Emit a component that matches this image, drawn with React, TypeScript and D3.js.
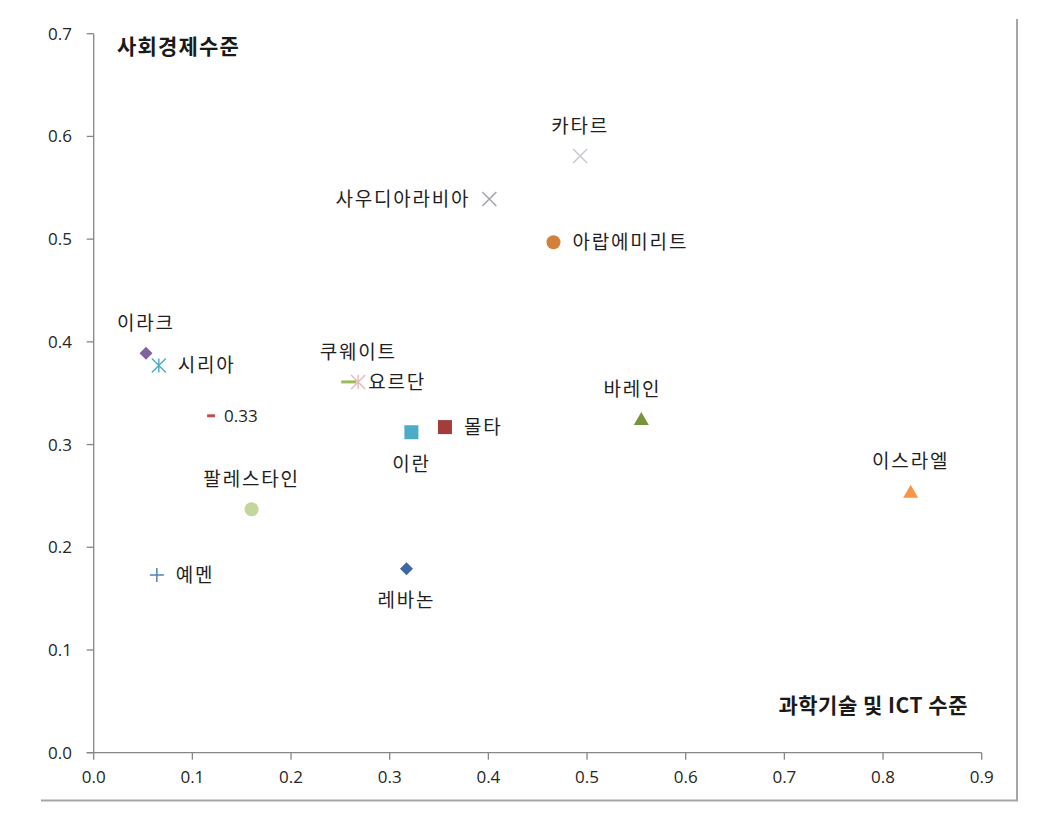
import React from "react";
import * as d3 from "d3";

const countries = ["이라크", "시리아", "0.33", "팔레스타인", "예멘", "레바논", "이란", "몰타", "쿠웨이트", "요르단", "바레인", "이스라엘", "카타르", "사우디아라비아", "아랍에미리트"];
const techLevel = [0.053, 0.066, 0.119, 0.160, 0.064, 0.317, 0.322, 0.356, 0.259, 0.268, 0.555, 0.828, 0.493, 0.401, 0.466];
const socioLevel = [0.389, 0.377, 0.328, 0.237, 0.173, 0.179, 0.312, 0.317, 0.361, 0.361, 0.325, 0.254, 0.581, 0.539, 0.497];
const xTicks = [0, 0.1, 0.2, 0.3, 0.4, 0.5, 0.6, 0.7, 0.8, 0.9];
const yTicks = [0, 0.1, 0.2, 0.3, 0.4, 0.5, 0.6, 0.7];
const yTitle = "사회경제수준";
const xTitle = "과학기술 및 ICT 수준";

// marker style per series
const markerShapes = ["diamond", "asterisk", "dashSmall", "circle", "plus", "diamond", "square", "square", "dash", "asterisk", "triangle", "triangle", "cross", "cross", "circle"];
const markerColors = ["#8064A2", "#4BACC6", "#C0504D", "#C3D69B", "#4F81BD", "#3F68A3", "#4BACC6", "#A23D3A", "#9BBB59", "#E6B9B8", "#77933C", "#F79646", "#C9C9D3", "#A3A3B5", "#D2803B"];
const labelSide = ["top", "right", "right", "top", "right", "bottom", "bottom", "right", "top", "right", "top", "top", "top", "left", "right"];
const labelShift = [0, 0, 0, 0, 0, 0, 0, 0, 9, -8, -9, 0, 0, 0, 0];

const W = 1047, H = 814;
const x = d3.scaleLinear().domain([0, 0.9]).range([93.7, 981.7]);
const y = d3.scaleLinear().domain([0, 0.7]).range([752.7, 33.7]);

function Marker({ shape, color, cx, cy }: { shape: string; color: string; cx: number; cy: number }) {
  switch (shape) {
    case "diamond": {
      const r = 6.5;
      return <path d={`M${cx},${cy - r}L${cx + r},${cy}L${cx},${cy + r}L${cx - r},${cy}Z`} fill={color} />;
    }
    case "square":
      return <rect x={cx - 7} y={cy - 7} width={14} height={14} fill={color} />;
    case "circle":
      return <circle cx={cx} cy={cy} r={7} fill={color} />;
    case "triangle":
      return <path d={`M${cx},${cy - 7}L${cx + 7.5},${cy + 6}L${cx - 7.5},${cy + 6}Z`} fill={color} />;
    case "cross": {
      const r = 7;
      return <path d={`M${cx - r},${cy - r}L${cx + r},${cy + r}M${cx - r},${cy + r}L${cx + r},${cy - r}`} stroke={color} strokeWidth={1.5} fill="none" />;
    }
    case "plus": {
      const r = 7;
      return <path d={`M${cx - r},${cy}L${cx + r},${cy}M${cx},${cy - r}L${cx},${cy + r}`} stroke={color} strokeWidth={1.5} fill="none" />;
    }
    case "asterisk": {
      const r = 7;
      return <path d={`M${cx - r},${cy - r}L${cx + r},${cy + r}M${cx - r},${cy + r}L${cx + r},${cy - r}M${cx},${cy - r}L${cx},${cy + r}`} stroke={color} strokeWidth={1.4} fill="none" />;
    }
    case "dash":
      return <rect x={cx - 8} y={cy - 1.5} width={15} height={3} fill={color} />;
    case "dashSmall":
      return <rect x={cx - 4} y={cy - 1.5} width={8} height={3} fill={color} />;
    default:
      return null;
  }
}

export default function App() {
  const labelFont = "'Noto Sans CJK KR', 'Noto Sans', sans-serif";
  const numFont = "'Open Sans', 'Noto Sans', sans-serif";
  return (
    <svg width={W} height={H} style={{ position: "absolute", left: 0, top: 0, background: "#fff" }}>
      {/* outer frame */}
      <path d="M41,800.5H1017V19" stroke="#A6A6A6" strokeWidth={2} fill="none" />
      {/* axes */}
      <line x1={x(0)} x2={x(0)} y1={y(0.7)} y2={y(0)} stroke="#868686" strokeWidth={1.3} />
      <line x1={x(0) - 7} x2={x(0.9)} y1={y(0)} y2={y(0)} stroke="#868686" strokeWidth={1.3} />
      {yTicks.map((t) => (
        <g key={"y" + t}>
          <line x1={x(0) - 7} x2={x(0)} y1={y(t)} y2={y(t)} stroke="#868686" strokeWidth={1.3} />
          <text x={72} y={y(t)} dy="0.35em" textAnchor="end" fontFamily={numFont} fontSize={17} fill="#262626">
            {t.toFixed(1)}
          </text>
        </g>
      ))}
      {xTicks.map((t) => (
        <g key={"x" + t}>
          <line x1={x(t)} x2={x(t)} y1={y(0)} y2={y(0) + 7} stroke="#868686" strokeWidth={1.3} />
          <text x={x(t)} y={777} dy="0.35em" textAnchor="middle" fontFamily={numFont} fontSize={17} fill="#262626">
            {t.toFixed(1)}
          </text>
        </g>
      ))}
      {/* axis titles */}
      <text x={117} y={47} dy="0.35em" fontFamily={labelFont} fontWeight="bold" fontSize={21} letterSpacing={1.2} fill="#1a1a1a">
        {yTitle}
      </text>
      <text x={968} y={706} dy="0.35em" textAnchor="end" fontFamily={labelFont} fontWeight="bold" fontSize={21} letterSpacing={0.5} fill="#1a1a1a">
        {xTitle}
      </text>
      {/* points */}
      {countries.map((c, i) => {
        const cx = x(techLevel[i]);
        const cy = y(socioLevel[i]);
        const side = labelSide[i];
        let lx = cx + labelShift[i], ly = cy, anchor = "middle";
        if (side === "top") ly = cy - 30;
        else if (side === "bottom") ly = cy + 32;
        else if (side === "right") { lx = cx + (markerShapes[i] === "asterisk" && i === 9 ? 10 : markerShapes[i] === "dashSmall" ? 13 : 19); anchor = "start"; }
        else if (side === "left") { lx = cx - 19; anchor = "end"; }
        const isNum = c === "0.33";
        return (
          <g key={c}>
            <Marker shape={markerShapes[i]} color={markerColors[i]} cx={cx} cy={cy} />
            <text x={lx} y={ly} dy="0.35em" textAnchor={anchor} fontFamily={isNum ? numFont : labelFont} fontSize={isNum ? 17 : 19} letterSpacing={isNum ? 0 : 1.8} fill="#1f1f1f">
              {c}
            </text>
          </g>
        );
      })}
    </svg>
  );
}
